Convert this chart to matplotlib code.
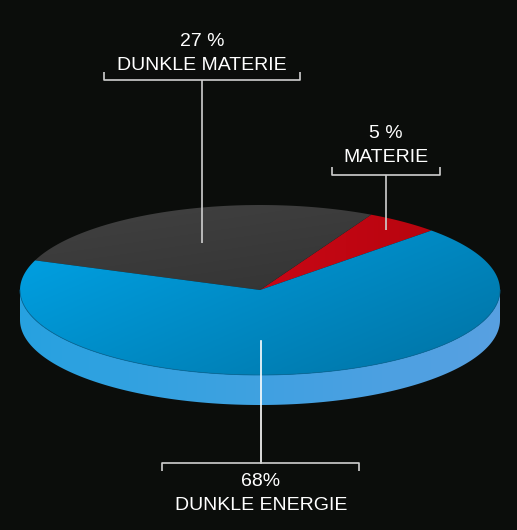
import numpy as np
import matplotlib
matplotlib.use("Agg")
import matplotlib.pyplot as plt
from matplotlib.patches import Polygon
from matplotlib.colors import LinearSegmentedColormap

# data
labels = ["MATERIE", "DUNKLE MATERIE", "DUNKLE ENERGIE"]
pct_text = ["5 %", "27 %", "68%"]
values = [5, 27, 68]
colors = ["#c40613", "#3b3b3b", "#0090d0"]

BG = "#0b0d0b"
W, H = 517, 530
cx, cy, rx, ry, depth = 260, 290, 240, 85, 30
start = 44.4


def ell(t, dy=0):
    t = np.radians(t)
    return np.column_stack([cx + rx * np.cos(t), cy - ry * np.sin(t) + dy])


def gradient_fill(ax, poly, c0, c1, angle_deg=-30):
    "fill a patch with a linear gradient using imshow clipped to it"
    xs, ys = poly[:, 0], poly[:, 1]
    x0, x1, y0, y1 = xs.min(), xs.max(), ys.min(), ys.max()
    n = 200
    gx, gy = np.meshgrid(np.linspace(0, 1, n), np.linspace(0, 1, n))
    a = np.radians(angle_deg)
    g = gx * np.cos(a) - gy * np.sin(a)
    g = (g - g.min()) / (g.max() - g.min())
    cmap = LinearSegmentedColormap.from_list("g", [c0, c1])
    im = ax.imshow(g, cmap=cmap, extent=[x0, x1, y1, y0], origin="upper",
                   aspect="auto", zorder=2, interpolation="bilinear")
    patch = Polygon(poly, closed=True, facecolor="none", edgecolor="none")
    ax.add_patch(patch)
    im.set_clip_path(patch)


fig = plt.figure(figsize=(W / 100, H / 100), dpi=100, facecolor=BG)
ax = fig.add_axes([0, 0, 1, 1])
ax.set_facecolor(BG)
ax.set_xlim(0, W)
ax.set_ylim(H, 0)
ax.axis("off")

# side band (front half)
t = np.linspace(180, 360, 200)
side = np.vstack([ell(t), ell(t[::-1], depth)])
gradient_fill(ax, side, "#27a2e0", "#58a0e2", angle_deg=0)

# top wedges
angles = start + np.cumsum([0] + values) * 3.6
grads = [("#c80715", "#b8050f", 0), ("#414141", "#343434", -60), ("#00a3e6", "#0072a3", -35)]
for i in range(len(values)):
    t = np.linspace(angles[i], angles[i + 1], 200)
    poly = np.vstack([[cx, cy], ell(t)])
    c0, c1, a = grads[i]
    gradient_fill(ax, poly, c0, c1, angle_deg=a)

# rim line between top and side
rim = ell(np.linspace(180, 360, 200))
ax.plot(rim[:, 0], rim[:, 1], color="#0a6c9c", lw=0.6, zorder=3)

# leaders and brackets
lc = "#cfcfcf"
lw = 1.2
kw = dict(color=lc, lw=lw, zorder=4, solid_capstyle="butt")
txt = dict(color="white", ha="center", va="center", fontsize=14,
           family=["Liberation Sans", "DejaVu Sans"], zorder=5)

# DUNKLE MATERIE
ax.plot([202, 202], [243, 80], **kw)
ax.plot([104, 104, 300, 300], [72, 80, 80, 72], **kw)
ax.text(202, 42, pct_text[1], **txt)
ax.text(202, 66, labels[1], **txt)

# MATERIE
ax.plot([386, 386], [230, 175], **kw)
ax.plot([332, 332, 440, 440], [167, 175, 175, 167], **kw)
ax.text(386, 133, pct_text[0], **txt)
ax.text(386, 157, labels[0], **txt)

# DUNKLE ENERGIE
ax.plot([261, 261], [341, 463], color="white", lw=lw, zorder=4)
ax.plot([162, 162, 359, 359], [471, 463, 463, 471], **kw)
ax.text(261, 482, pct_text[2], **txt)
ax.text(261, 505, labels[2], **txt)

fig.savefig("out.png", dpi=100, facecolor=BG)
